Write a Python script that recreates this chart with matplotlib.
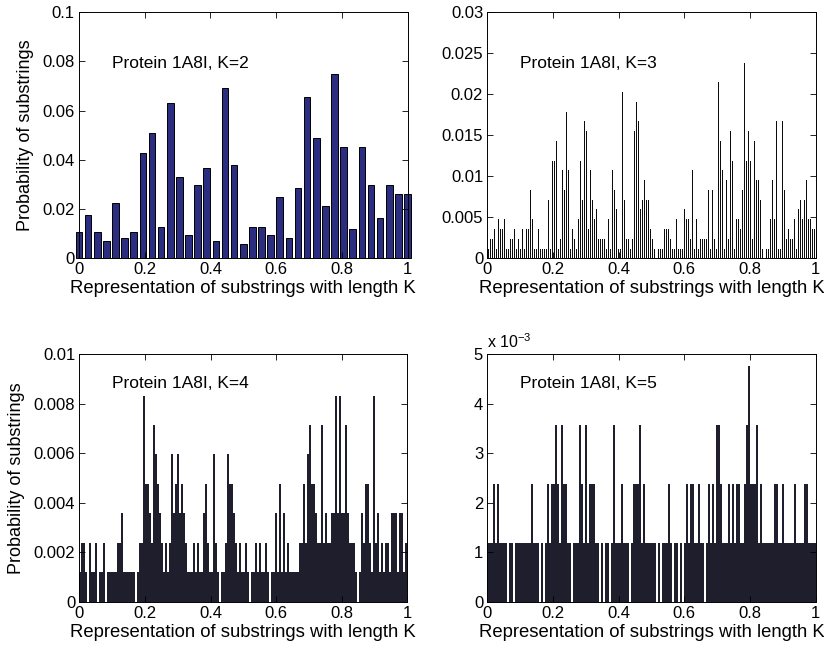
import numpy as np
import matplotlib.pyplot as plt
from matplotlib.ticker import FuncFormatter

plt.rcParams['font.family'] = ['Liberation Sans', 'DejaVu Sans']
plt.rcParams['mathtext.default'] = 'regular'

# probabilities of the 37 bins for K=2
k2_probs = [0.0106, 0.0176, 0.0106, 0.0070, 0.0225, 0.0081, 0.0106, 0.0427,
            0.0510, 0.0129, 0.0630, 0.0332, 0.0095, 0.0297, 0.0367, 0.0070,
            0.0690, 0.0380, 0.0057, 0.0129, 0.0129, 0.0095, 0.0248, 0.0081,
            0.0285, 0.0655, 0.0490, 0.0211, 0.0750, 0.0453, 0.0118, 0.0453,
            0.0297, 0.0165, 0.0297, 0.0260, 0.0260]

# substring counts (one value per ~1/164 of the axis)
k3_counts = [1, 2, 2, 3, 1, 4, 3, 3, 4, 1, 1, 2, 2, 3, 1, 2, 1, 3, 1, 3,
             3, 7, 4, 1, 1, 3, 1, 1, 1, 1, 6, 1, 10, 10, 12, 1, 2, 9, 7, 15,
             9, 1, 3, 2, 1, 4, 10, 6, 14, 13, 3, 9, 6, 4, 5, 2, 2, 2, 2, 1,
             4, 1, 9, 7, 5, 1, 1, 17, 6, 2, 2, 1, 2, 13, 16, 14, 5, 6, 8, 6,
             6, 3, 2, 1, 0, 1, 1, 1, 3, 3, 3, 2, 1, 1, 4, 1, 1, 1, 5, 4,
             4, 2, 9, 1, 4, 1, 2, 2, 2, 2, 7, 1, 7, 2, 1, 18, 12, 9, 1, 8,
             2, 13, 10, 1, 4, 4, 3, 7, 20, 10, 13, 10, 2, 12, 8, 8, 6, 1, 0, 1,
             1, 4, 8, 4, 14, 1, 1, 14, 7, 2, 3, 2, 2, 4, 1, 5, 6, 4, 6, 8,
             4, 4, 3, 3]

k4_counts = [1, 2, 2, 1, 0, 2, 1, 1, 2, 0, 1, 1, 2, 0, 1, 1, 1, 1, 1, 2,
             2, 3, 1, 1, 1, 1, 1, 1, 0, 1, 2, 2, 7, 4, 4, 3, 2, 6, 5, 4,
             3, 2, 1, 2, 1, 2, 5, 3, 4, 5, 3, 4, 3, 2, 1, 1, 1, 2, 1, 2,
             1, 1, 3, 4, 2, 1, 1, 5, 2, 1, 0, 1, 1, 2, 5, 4, 4, 3, 2, 1,
             2, 1, 1, 2, 1, 0, 1, 1, 2, 1, 2, 1, 1, 2, 1, 0, 1, 1, 3, 1,
             4, 1, 3, 1, 2, 1, 1, 1, 1, 1, 2, 2, 4, 2, 5, 6, 4, 4, 3, 2,
             2, 6, 2, 3, 2, 2, 3, 3, 7, 3, 7, 3, 3, 6, 3, 2, 2, 2, 1, 0,
             1, 3, 2, 4, 4, 2, 1, 7, 2, 3, 1, 2, 1, 2, 2, 1, 3, 3, 3, 1,
             3, 3, 1, 2]

k5_counts = [1, 1, 1, 2, 1, 2, 1, 1, 1, 1, 0, 1, 1, 0, 1, 1, 1, 1, 1, 1,
             1, 1, 2, 1, 1, 1, 0, 1, 0, 1, 2, 1, 2, 2, 3, 2, 1, 3, 2, 2,
             1, 1, 0, 1, 1, 1, 3, 2, 1, 3, 1, 2, 2, 2, 1, 1, 0, 1, 0, 1,
             1, 0, 1, 3, 1, 1, 1, 2, 1, 1, 1, 0, 1, 2, 2, 2, 3, 1, 2, 1,
             1, 1, 1, 1, 0, 1, 0, 1, 1, 1, 2, 1, 0, 1, 1, 0, 1, 0, 1, 2,
             1, 2, 2, 1, 1, 2, 1, 1, 0, 1, 2, 1, 2, 1, 3, 3, 2, 1, 1, 1,
             2, 1, 2, 1, 2, 2, 1, 1, 2, 3, 4, 2, 2, 2, 3, 1, 2, 1, 1, 1,
             1, 1, 1, 2, 2, 1, 1, 2, 1, 1, 1, 1, 1, 2, 1, 1, 1, 1, 2, 2,
             1, 1, 1, 1]

n_substrings = 840
y_tops = [0.1, 0.03, 0.01, 0.005]
y_steps = [0.02, 0.005, 0.002, 0.001]
titles = ['Protein 1A8I, K=2', 'Protein 1A8I, K=3', 'Protein 1A8I, K=4', 'Protein 1A8I, K=5']

W, H = 824, 651
fig = plt.figure(figsize=(W / 100, H / 100), dpi=100)
boxes = [(79, 12, 407.5, 258.3), (487.3, 12, 815.7, 258.3),
         (79.3, 354.3, 407.3, 601.7), (487.3, 354.3, 815.7, 601.7)]
axes = [fig.add_axes([x0 / W, 1 - y1 / H, (x1 - x0) / W, (y1 - y0) / H])
        for x0, y0, x1, y1 in boxes]

# K=2 bars (end bars spill past the axes like in the original)
x2 = np.arange(len(k2_probs)) / (len(k2_probs) - 1)
axes[0].bar(x2, k2_probs, width=0.73 / 36, color='#2b2e80', edgecolor='black',
            linewidth=0.7, clip_on=False)

# K=3..5 bars
for ax, counts, frac, col in zip(axes[1:], [k3_counts, k4_counts, k5_counts],
                                 [0.62, 1.0, 1.0], ['#0c0c0c', '#1e1e2c', '#1e1e2c']):
    n = len(counts)
    xs = (np.arange(n) + 0.5) / n
    ax.bar(xs, np.array(counts) / n_substrings, width=frac / n, color=col, linewidth=0)

for i, ax in enumerate(axes):
    top = y_tops[i]
    ax.set_xlim(0, 1)
    ax.set_ylim(0, top)
    ax.set_xticks(np.linspace(0, 1, 6))
    ax.set_yticks(np.arange(0, top + y_steps[i] / 2, y_steps[i]))
    ax.xaxis.set_major_formatter(FuncFormatter(lambda v, _: '%g' % round(v, 6)))
    if i == 3:
        ax.yaxis.set_major_formatter(FuncFormatter(lambda v, _: '%g' % round(v * 1e3, 6)))
        ax.text(0.0, 1.015, 'x 10$^{-3}$', transform=ax.transAxes, fontsize=11.5,
                ha='left', va='bottom')
    else:
        ax.yaxis.set_major_formatter(FuncFormatter(lambda v, _: '%g' % round(v, 6)))
    ax.tick_params(direction='in', top=True, right=True, length=4, width=0.6,
                   labelsize=12, pad=3)
    for s in ax.spines.values():
        s.set_linewidth(0.7)
        s.set_zorder(3)
    ax.set_xlabel('Representation of substrings with length K', fontsize=13.3, labelpad=2)
    if i in (0, 2):
        ax.set_ylabel('Probability of substrings', fontsize=13, labelpad=6)
    ty = 0.79 if i < 2 else 0.883
    ax.text(0.10, ty, titles[i], transform=ax.transAxes, fontsize=12.5, va='center')

fig.savefig('out.png', dpi=100)
